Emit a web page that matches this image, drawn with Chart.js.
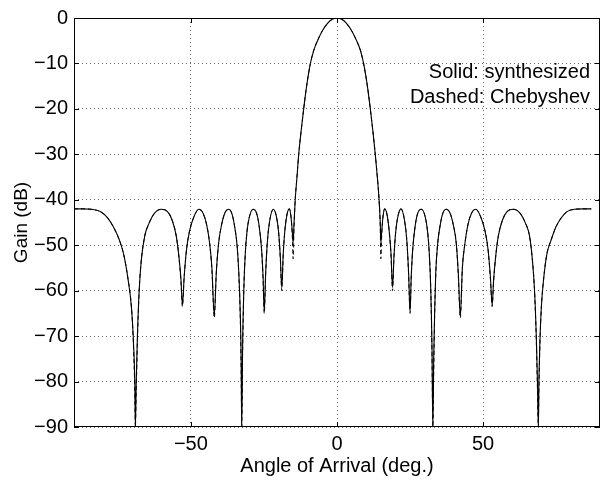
<!DOCTYPE html>
<html>
<head>
<meta charset="utf-8">
<script src="https://cdn.jsdelivr.net/npm/chart.js@4.4.1/dist/chart.umd.min.js"></script>
<style>
  html, body { margin: 0; padding: 0; background: #fff; }
  #wrap { width: 602px; height: 481px; }
</style>
</head>
<body>
<div id="wrap"><canvas id="beamChart" width="602" height="481"></canvas></div>
<script>
// angle of arrival (deg.)
const angle = [
  -90, -87, -84, -81, -78.5, -76.5, -74.5, -73, -71.5, -70.3, -69.6, -69.2, -69.0, -68.7, -68.3, -67.7, -67.0, -65.8, -64.4, -62.5, -60.2,
  -58, -56.4, -55, -54.1, -53.4, -52.9, -52.3, -51.5, -50.5, -49, -47.3,
  -45.8, -44.6, -43.6, -42.8, -42.0, -41.3, -40.5, -39.5, -38.3, -37.1,
  -36, -35, -34.2, -33.6, -33.1, -32.8, -32.6, -32.3, -31.9, -31.4, -30.8, -30, -28.7,
  -27.5, -26.6, -25.8, -25.3, -24.9, -24.4, -23.8, -23, -21.8,
  -20.8, -20.0, -19.4, -18.9, -18.4, -17.8, -17.1, -16.3,
  -15.7, -15.3, -15.0, -14.7, -14.3, -13.7, -13.1, -12.3, -11.4, -10.4, -9.1, -7.9, -6.4, -5.0, -3.4, -1.8, 0,
  1.8, 3.4, 5.0, 6.5, 8.0, 9.1, 10.4, 11.4, 12.3, 13.1, 13.8, 14.4, 14.8, 15.0, 15.3, 15.7, 16.3,
  17.1, 17.8, 18.5, 19.0, 19.5, 20.1, 20.9, 21.9,
  23.1, 23.9, 24.5, 25.0, 25.4, 25.9, 26.7, 27.6, 28.9,
  30.2, 31.0, 31.6, 32.1, 32.5, 32.8, 33.1, 33.4, 33.8, 34.4, 35.2, 36.2, 37.4,
  38.6, 39.8, 40.8, 41.5, 42.2, 42.9, 43.8, 44.8, 46.0, 47.5,
  49.2, 50.7, 51.7, 52.5, 53.1, 53.6, 54.3, 55.2, 56.6, 58.2, 60.4,
  62.7, 64.6, 65.9, 66.9, 67.6, 68.2, 68.6, 68.9, 69.1, 69.4, 69.9, 70.7, 71.8, 73.3, 74.9, 76.7, 78.7, 81.2, 84, 87, 90
];

// Solid: synthesized (dB)
const synth = [
  -42.0, -42.0, -42.1, -42.6, -44.0, -46.0, -48.8, -52, -57.5, -64, -72, -80, -90, -80, -70, -60, -53.5, -48, -45.3, -43, -42.1,
  -42.6, -44.5, -48, -52.5, -57.5, -63.2, -57, -51, -47, -43.8, -42.1,
  -43, -45.5, -49.5, -55, -65.5, -56, -49.5, -45.5, -42.8, -42.1,
  -43, -46, -50, -56, -65, -75, -90, -72, -60, -52, -47, -43.8, -42.1,
  -43, -46, -51, -57, -64.6, -56, -49, -44.5, -42.1,
  -43.5, -47, -52.5, -59.4, -52, -46.5, -43.2, -42.0,
  -44, -47, -49.5, -45, -40, -35, -30, -25, -20, -15, -10, -7, -4.6, -2.8, -1.3, -0.35, 0,
  -0.35, -1.3, -2.8, -4.7, -7.1, -10, -15, -20, -25, -30, -35, -40, -45, -49.5, -47, -44, -42.0,
  -43.2, -46.5, -52, -59.3, -52.5, -47, -43.5, -42.0,
  -44.5, -49, -56, -64.6, -57, -51, -46, -43, -42.1,
  -43.8, -47, -52, -60, -72, -90, -75, -65, -56, -50, -46, -43, -42.1,
  -42.8, -45.5, -49.5, -56, -65.6, -55, -49.5, -45.5, -43, -42.1,
  -43.8, -47, -51, -57, -63.2, -57.5, -52.5, -48, -44.5, -42.6, -42.1,
  -43, -45.3, -48, -53.5, -60, -70, -80, -90, -80, -72, -64, -57.5, -52, -48.8, -46, -44, -42.6, -42.1, -42.0, -42.0
];

// Dashed: Chebyshev (dB)
const cheb = [
  -42.0, -42.0, -42.1, -42.6, -44.0, -46.0, -48.8, -52, -57.5, -64, -73, -82, -90, -82, -71, -60, -53.5, -48, -45.3, -43, -42.1,
  -42.6, -44.5, -48, -52.5, -58, -63.5, -57, -51, -47, -43.8, -42.1,
  -43, -45.5, -49.5, -55.5, -66, -56, -49.5, -45.5, -42.8, -42.1,
  -43, -46, -50, -56.5, -66, -78, -90, -74, -60, -52, -47, -43.8, -42.1,
  -43, -46, -51, -57.5, -65, -56, -49, -44.5, -42.1,
  -43.5, -47, -53, -60, -52, -46.5, -43.2, -42.0,
  -44, -48, -53, -46, -40, -35, -30, -25, -20, -15, -10, -7, -4.6, -2.8, -1.3, -0.35, 0,
  -0.35, -1.3, -2.8, -4.7, -7.1, -10, -15, -20, -25, -30, -35, -40, -46, -53, -48, -44, -42.0,
  -43.2, -46.5, -52.5, -60, -52.5, -47, -43.5, -42.0,
  -44.5, -49, -56.5, -65, -57, -51, -46, -43, -42.1,
  -43.8, -47, -52, -60, -74, -90, -78, -66, -56.5, -50, -46, -43, -42.1,
  -42.8, -45.5, -49.5, -56.5, -66, -55, -49.5, -45.5, -43, -42.1,
  -43.8, -47, -51, -57.5, -63.5, -58, -52.5, -48, -44.5, -42.6, -42.1,
  -43, -45.3, -48, -53.5, -60, -71, -82, -90, -82, -73, -64, -57.5, -52, -48.8, -46, -44, -42.6, -42.1, -42.0, -42.0
];

const xTicks = [-50, 0, 50];
const yTicks = [-90, -80, -70, -60, -50, -40, -30, -20, -10, 0];
const noteLines = ['Solid: synthesized', 'Dashed: Chebyshev'];

const FONT = '"Liberation Sans", Arial, Helvetica, sans-serif';
const minus = v => String(v).replace('-', '\u2212');

// box round the plot, inward tick marks and the note text
const frame = {
  id: 'frame',
  afterDraw(chart) {
    const { ctx, chartArea: a, scales } = chart;
    ctx.save();
    ctx.setLineDash([]);
    ctx.strokeStyle = '#000';
    ctx.lineWidth = 1;
    ctx.strokeRect(a.left + 0.5, a.top + 0.5, a.right - a.left - 1, a.bottom - a.top - 1);
    ctx.beginPath();
    xTicks.forEach(v => {
      const px = Math.round(scales.x.getPixelForValue(v)) + 0.5;
      ctx.moveTo(px, a.bottom); ctx.lineTo(px, a.bottom - 5);
      ctx.moveTo(px, a.top); ctx.lineTo(px, a.top + 5);
    });
    yTicks.forEach(v => {
      const py = Math.round(scales.y.getPixelForValue(v)) + 0.5;
      ctx.moveTo(a.left, py); ctx.lineTo(a.left + 5, py);
      ctx.moveTo(a.right, py); ctx.lineTo(a.right - 5, py);
    });
    ctx.stroke();
    ctx.fillStyle = '#000';
    ctx.font = '20px ' + FONT;
    ctx.textAlign = 'right';
    ctx.textBaseline = 'middle';
    ctx.fillText(noteLines[0], a.right - 10, 72);
    ctx.fillText(noteLines[1], a.right - 10, 97);
    ctx.restore();
  }
};

const ctx = document.getElementById('beamChart').getContext('2d');
new Chart(ctx, {
  type: 'line',
  data: {
    datasets: [{
      label: 'synthesized',
      data: angle.map((a, i) => ({ x: a, y: synth[i] })),
      borderColor: '#000',
      borderWidth: 1.1,
      pointRadius: 0,
      cubicInterpolationMode: 'monotone',
      fill: false
    }, {
      label: 'Chebyshev',
      data: angle.map((a, i) => ({ x: a, y: cheb[i] })),
      borderColor: '#000',
      borderWidth: 1,
      borderDash: [4, 3],
      pointRadius: 0,
      cubicInterpolationMode: 'monotone',
      fill: false
    }]
  },
  options: {
    responsive: false,
    animation: false,
    layout: { padding: { top: 12, right: 2, left: 0, bottom: 0 } },
    plugins: { legend: { display: false }, tooltip: { enabled: false } },
    scales: {
      x: {
        type: 'linear',
        min: -90, max: 90,
        afterBuildTicks: s => { s.ticks = xTicks.map(v => ({ value: v })); },
        afterFit: s => { s.height = 54; },
        grid: { color: '#666', drawTicks: false, lineWidth: 1 },
        border: { display: false, dash: [1, 3] },
        ticks: { color: '#000', padding: 5, maxRotation: 0, font: { family: FONT, size: 20 }, callback: v => minus(v) },
        title: { display: true, text: 'Angle of Arrival (deg.)', color: '#000', padding: { top: 0, bottom: 3 }, font: { family: FONT, size: 20 } }
      },
      y: {
        min: -90, max: 0,
        afterBuildTicks: s => { s.ticks = yTicks.map(v => ({ value: v })); },
        afterFit: s => { s.width = 74; },
        grid: { color: '#666', drawTicks: false, lineWidth: 1 },
        border: { display: false, dash: [1, 3] },
        ticks: { color: '#000', padding: 6, font: { family: FONT, size: 20 }, callback: v => minus(v) },
        title: { display: true, text: 'Gain (dB)', color: '#000', padding: { top: 10, bottom: 0 }, font: { family: FONT, size: 19 } }
      }
    }
  },
  plugins: [frame]
});
</script>
</body>
</html>
